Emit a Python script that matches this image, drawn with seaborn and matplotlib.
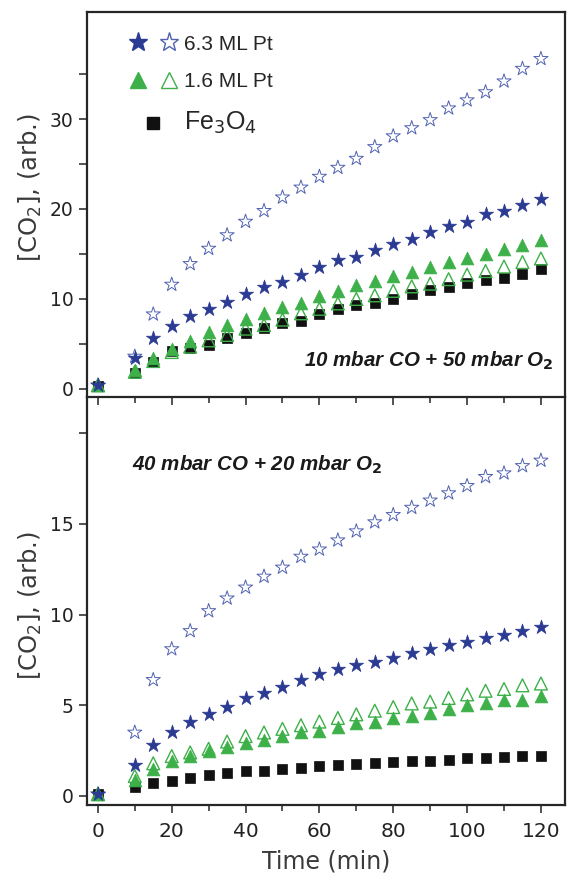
import numpy as np
import pandas as pd
import matplotlib
matplotlib.use("Agg")
import matplotlib.pyplot as plt
from matplotlib.lines import Line2D
from matplotlib.legend_handler import HandlerTuple
from matplotlib.ticker import MultipleLocator, FixedLocator
import seaborn as sns

time = [0, 10, 15, 20, 25, 30, 35, 40, 45, 50, 55, 60, 65, 70, 75, 80, 85,
        90, 95, 100, 105, 110, 115, 120]

# top panel: 10 mbar CO + 50 mbar O2
top_pt63_filled = [0.4, 3.4, 5.7, 7.0, 8.1, 8.9, 9.7, 10.5, 11.3, 11.9, 12.7, 13.6,
                   14.3, 14.7, 15.4, 16.1, 16.7, 17.4, 18.1, 18.6, 19.4, 19.8, 20.4, 21.1]
top_pt63_open = [0.4, 3.6, 8.3, 11.6, 13.9, 15.6, 17.1, 18.6, 19.8, 21.3, 22.4, 23.6,
                 24.6, 25.6, 26.9, 28.1, 29.0, 29.9, 31.2, 32.1, 33.0, 34.2, 35.6, 36.7]
top_pt16_filled = [0.4, 2.1, 3.4, 4.4, 5.3, 6.3, 7.1, 7.8, 8.4, 9.1, 9.6, 10.3,
                   10.9, 11.5, 12.0, 12.6, 13.0, 13.6, 14.1, 14.6, 15.0, 15.6, 16.0, 16.6]
top_pt16_open = [0.4, 1.9, 3.1, 4.1, 4.7, 5.4, 6.0, 6.7, 7.1, 7.7, 8.4, 8.9,
                 9.5, 10.0, 10.4, 10.9, 11.4, 11.7, 12.2, 12.7, 13.1, 13.6, 14.1, 14.5]
top_fe3o4 = [0.3, 1.8, 3.0, 4.2, 4.6, 4.9, 5.7, 6.2, 6.8, 7.3, 7.6, 8.3,
             8.9, 9.3, 9.6, 10.0, 10.5, 11.0, 11.3, 11.8, 12.1, 12.3, 12.8, 13.3]

# bottom panel: 40 mbar CO + 20 mbar O2
bot_pt63_filled = [0.1, 1.7, 2.8, 3.5, 4.1, 4.5, 4.9, 5.4, 5.7, 6.0, 6.4, 6.7,
                   7.0, 7.2, 7.4, 7.6, 7.9, 8.1, 8.3, 8.5, 8.7, 8.9, 9.1, 9.3]
bot_pt63_open = [0.1, 3.5, 6.4, 8.1, 9.1, 10.2, 10.9, 11.5, 12.1, 12.6, 13.2, 13.6,
                 14.1, 14.6, 15.1, 15.5, 15.9, 16.3, 16.7, 17.1, 17.6, 17.8, 18.2, 18.5]
bot_pt16_filled = [0.1, 0.9, 1.5, 1.9, 2.2, 2.5, 2.7, 2.9, 3.1, 3.3, 3.5, 3.6,
                   3.8, 4.0, 4.1, 4.3, 4.4, 4.6, 4.8, 5.0, 5.1, 5.3, 5.3, 5.5]
bot_pt16_open = [0.1, 1.1, 1.8, 2.2, 2.4, 2.6, 3.0, 3.3, 3.5, 3.7, 3.9, 4.1,
                 4.3, 4.5, 4.7, 4.9, 5.1, 5.2, 5.4, 5.6, 5.8, 5.9, 6.1, 6.2]
bot_fe3o4 = [0.1, 0.5, 0.7, 0.8, 1.0, 1.15, 1.25, 1.35, 1.4, 1.5, 1.55, 1.65,
             1.7, 1.75, 1.8, 1.85, 1.9, 1.95, 2.0, 2.1, 2.1, 2.15, 2.2, 2.2]

BLUE = "#2b3a92"
BLUE_LIGHT = "#5062b0"
GREEN = "#3db049"

sns.set_style("ticks")
plt.rcParams["font.family"] = ["Liberation Sans", "DejaVu Sans"]

fig = plt.figure(figsize=(5.71, 8.75), dpi=100)
ax1 = fig.add_axes([0.152, 0.5463, 0.838, 0.44])
ax2 = fig.add_axes([0.152, 0.080, 0.838, 0.4663])

tick_font = ["DejaVu Sans"]


def draw_panel(ax, pt63_f, pt63_o, pt16_f, pt16_o, fe):
    df = pd.DataFrame({"t": time, "a": pt63_o, "b": fe, "c": pt16_o,
                       "d": pt16_f, "e": pt63_f})
    sns.scatterplot(data=df, x="t", y="a", marker="*", s=115, ax=ax,
                    facecolor="none", edgecolor=BLUE_LIGHT, linewidth=0.7, zorder=3)
    sns.scatterplot(data=df, x="t", y="b", marker="s", s=46, ax=ax,
                    color="#111111", edgecolor="#111111", linewidth=0.5, zorder=3)
    sns.scatterplot(data=df, x="t", y="c", marker="^", s=85, ax=ax,
                    facecolor="none", edgecolor=GREEN, linewidth=1.0, zorder=4)
    sns.scatterplot(data=df, x="t", y="d", marker="^", s=85, ax=ax,
                    color=GREEN, edgecolor=GREEN, linewidth=0.5, zorder=4)
    sns.scatterplot(data=df, x="t", y="e", marker="*", s=115, ax=ax,
                    color=BLUE, edgecolor=BLUE, linewidth=0.5, zorder=5)
    ax.set_xlim(-3, 126.6)
    ax.xaxis.set_major_locator(MultipleLocator(20))
    ax.xaxis.set_minor_locator(MultipleLocator(10))
    for side in ["top", "right", "bottom", "left"]:
        ax.spines[side].set_visible(True)
        ax.spines[side].set_linewidth(1.6)
    ax.tick_params(axis="both", which="major", length=6, width=1.1,
                   labelsize=13.5, colors="#222222")
    ax.tick_params(axis="both", which="minor", length=4, width=1.1)
    ax.set_xlabel("")


draw_panel(ax1, top_pt63_filled, top_pt63_open, top_pt16_filled, top_pt16_open, top_fe3o4)
draw_panel(ax2, bot_pt63_filled, bot_pt63_open, bot_pt16_filled, bot_pt16_open, bot_fe3o4)

ax1.set_ylim(-0.9, 41.9)
ax1.yaxis.set_major_locator(FixedLocator([0, 10, 20, 30]))
ax1.yaxis.set_minor_locator(FixedLocator([5, 15, 25, 35]))
ax1.tick_params(axis="y", which="minor", length=6)
ax1.tick_params(axis="x", labelbottom=False)
ax1.set_zorder(2)
ax1.patch.set_alpha(0)

ax2.set_ylim(-0.5, 22.0)
ax2.yaxis.set_major_locator(FixedLocator([0, 5, 10, 15, 20]))
ax2.set_yticklabels(["0", "5", "10", "15", ""])
ax2.tick_params(axis="x", which="both", top=False, direction="out")
ax2.tick_params(axis="x", which="major", pad=6)
ax2.spines["top"].set_visible(False)

for lab in ax1.get_yticklabels() + ax2.get_yticklabels() + ax2.get_xticklabels():
    lab.set_family(tick_font)
    lab.set_fontsize(13.5)
for lab in ax2.get_xticklabels():
    lab.set_fontsize(14.5)

label_font = ["DejaVu Sans"]
ax1.set_ylabel("[CO$_2$], (arb.)", fontsize=17.5, family=label_font, color="#3a3a3a")
ax2.set_ylabel("[CO$_2$], (arb.)", fontsize=17.5, family=label_font, color="#3a3a3a")
ax1.yaxis.set_label_coords(-0.09, 0.545)
ax2.yaxis.set_label_coords(-0.09, 0.49)
ax2.set_xlabel("Time (min)", fontsize=17, family=label_font, color="#3a3a3a", labelpad=6)

ax1.text(0.975, 0.095, "10 mbar CO + 50 mbar O$_\\mathbf{2}$", transform=ax1.transAxes,
         ha="right", va="center", fontsize=14.8, fontweight="bold", fontstyle="italic",
         color="#1a1a1a")
ax2.text(0.095, 0.835, "40 mbar CO + 20 mbar O$_\\mathbf{2}$", transform=ax2.transAxes,
         ha="left", va="center", fontsize=14.8, fontweight="bold", fontstyle="italic",
         color="#1a1a1a")

h63 = (Line2D([], [], ls="none", marker="*", ms=14, color=BLUE),
       Line2D([], [], ls="none", marker="*", ms=14, mfc="none", mec=BLUE_LIGHT, mew=1.0))
h16 = (Line2D([], [], ls="none", marker="^", ms=11, color=GREEN),
       Line2D([], [], ls="none", marker="^", ms=11, mfc="none", mec=GREEN, mew=1.0))
hfe = Line2D([], [], ls="none", marker="s", ms=8, color="#111111")
leg = ax1.legend([h63, h16, hfe], ["6.3 ML Pt", "1.6 ML Pt", "Fe$_3$O$_4$"],
                 handler_map={tuple: HandlerTuple(ndivide=None, pad=0.6)},
                 loc="upper left", bbox_to_anchor=(0.05, 0.99), frameon=False,
                 fontsize=15, labelspacing=0.9, handlelength=2.3, handletextpad=0.3)
leg.get_texts()[2].set_fontsize(18)

plt.savefig("out.png", dpi=100)
plt.close()
